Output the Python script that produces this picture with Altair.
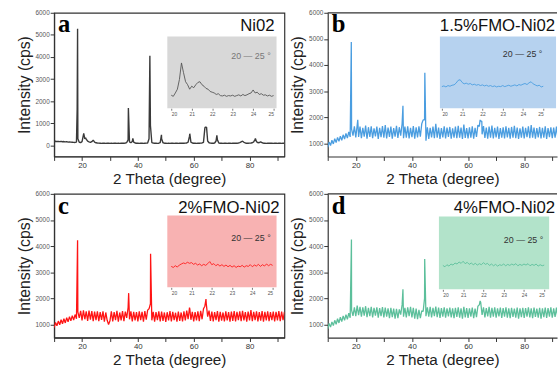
import altair as alt
import pandas as pd

# ---------------- data ----------------
# main patterns: intensity sampled every 0.5 degree from 10 to 92.5
a_base = [170,190,175,185,170,180,165,175,160,170,
          150,160,150,145,140,135,150,300,140,130,
          170,480,300,290,190,160,140,170,240,150,
          120,110,105,100,95,105,100,95,100,105,
          95,100,95,100,105,95,100,95,100,105,
          100,110,130,250,160,120,180,150,110,100,
          100,95,100,100,95,100,105,110,300,900,
          130,110,100,100,95,100,130,300,120,100,
          100,95,100,95,100,100,95,100,100,95,
          100,100,105,100,105,110,150,420,150,110,
          100,100,95,100,100,105,110,140,780,820,
          200,120,105,100,100,110,200,250,110,100,
          100,95,100,100,95,100,100,95,100,100,
          105,100,110,130,160,190,140,110,100,100,
          105,110,120,160,280,170,120,130,160,120,
          100,100,95,100,100,105,100,95,100,100,
          95,100,100,95,100,100]
a_peak_x = [18.25, 18.4, 20.6, 21.3, 36.6, 38.2, 44.3, 48.45, 58.6, 64.1, 64.6, 68.3, 82.1]
a_peak_y = [1650, 5280, 550, 340, 1690, 320, 4060, 480, 530, 830, 830, 460, 310]

b_base = [850,1050,920,1120,980,1180,1030,1230,1080,1280,
          1120,1330,1170,1380,1200,1440,1250,1550,1300,1650,
          1230,1700,1250,1640,1200,1600,1260,1680,1180,1620,
          1250,1650,1200,1580,1270,1640,1170,1600,1240,1660,
          1220,1700,1190,1610,1250,1640,1180,1590,1260,1670,
          1210,1620,1300,1750,1200,1640,1220,1650,1190,1600,
          1240,1660,1180,1620,1230,1650,1260,1750,1900,1900,
          1100,1620,1170,1600,1230,1640,1200,1750,1220,1610,
          1170,1590,1230,1650,1190,1610,1250,1630,1180,1580,
          1220,1640,1200,1670,1220,1610,1170,1720,1210,1590,
          1190,1620,1220,1650,1180,1600,1250,1700,1650,1850,
          1350,1660,1210,1610,1180,1640,1220,1680,1190,1600,
          1230,1640,1170,1590,1220,1620,1190,1650,1230,1600,
          1180,1630,1220,1670,1200,1610,1170,1580,1220,1640,
          1190,1600,1240,1650,1200,1700,1220,1610,1180,1590,
          1230,1630,1190,1600,1220,1650,1170,1590,1240,1620,
          1200,1610,1220,1640,1190,1600]
b_peak_x = [18.4, 20.7, 36.8, 44.6, 64.3, 64.9]
b_peak_y = [4880, 1900, 2440, 3700, 1900, 1850]

c_base = [880,1080,950,1130,990,1180,1030,1220,1060,1260,
          1100,1300,1140,1340,1170,1380,1220,1480,1250,1520,
          1160,1540,1200,1500,1140,1530,1190,1510,1130,1490,
          1170,1500,1130,1470,1180,1500,1110,1460,1160,1000,
          1140,1500,1120,1470,1170,1520,1110,1460,1160,1510,
          1130,1490,1250,1650,1200,1500,1120,1480,1160,1470,
          1120,1500,1170,1480,1110,1510,1190,1550,1600,1800,
          1160,1480,1110,1470,1170,1500,1120,1490,1140,1460,
          1100,1470,1160,1510,1120,1480,1170,1450,1110,1490,
          1140,1460,1120,1500,1160,1530,1200,1650,1180,1480,
          1120,1470,1160,1500,1130,1520,1200,1600,1700,1800,
          1300,1530,1140,1490,1120,1470,1170,1510,1110,1480,
          1150,1460,1120,1500,1160,1470,1110,1490,1140,1510,
          1120,1480,1170,1500,1130,1520,1160,1470,1110,1490,
          1160,1550,1130,1480,1170,1500,1120,1470,1150,1510,
          1110,1480,1160,1500,1130,1470,1170,1490,1120,1480,
          1160,1510,1130,1490,1170,1480]
c_peak_x = [18.4, 36.7, 44.55, 58.6, 64.4]
c_peak_y = [4220, 2200, 3710, 1600, 1970]

d_base = [830,1040,900,1100,960,1160,1010,1220,1060,1280,
          1110,1330,1160,1380,1200,1430,1260,1550,1330,1660,
          1320,1720,1360,1680,1300,1660,1340,1700,1280,1640,
          1320,1680,1270,1640,1340,1660,1260,1630,1320,1670,
          1270,1650,1300,1620,1240,1640,1280,1610,1220,1600,
          1240,1580,1380,1750,1300,1640,1270,1660,1320,1680,
          1270,1640,1220,1610,1200,1560,1240,1520,1500,2000,
          1320,1660,1300,1680,1270,1640,1320,1690,1280,1650,
          1250,1630,1300,1660,1260,1620,1310,1650,1270,1620,
          1240,1640,1290,1660,1260,1620,1220,1680,1270,1630,
          1250,1620,1300,1650,1240,1610,1280,1700,1750,1850,
          1370,1660,1270,1630,1310,1680,1260,1640,1300,1660,
          1260,1620,1310,1650,1250,1630,1300,1660,1260,1620,
          1240,1640,1290,1610,1260,1650,1220,1620,1280,1640,
          1250,1630,1300,1660,1270,1620,1240,1650,1290,1610,
          1260,1640,1220,1620,1280,1650,1250,1630,1300,1660,
          1260,1620,1290,1650,1250,1630]
d_peak_x = [18.45, 36.8, 44.55, 64.3]
d_peak_y = [4250, 2350, 3510, 1900]

# insets: 20-25 degree, every 0.1 degree
a_inset = [120,105,150,200,330,550,420,300,260,200,
           240,220,260,290,300,260,240,210,200,170,
           160,150,130,140,115,110,120,105,115,110,
           120,105,115,125,110,130,115,125,140,150,
           190,150,160,130,140,120,125,110,120,105,115]
b_inset = [1400,1420,1390,1430,1410,1440,1450,1500,1580,1600,
           1520,1480,1500,1470,1490,1450,1470,1440,1460,1430,
           1450,1420,1440,1410,1430,1400,1420,1390,1410,1400,
           1430,1400,1420,1440,1410,1430,1450,1420,1460,1440,
           1470,1490,1460,1510,1540,1480,1450,1420,1440,1390,1410]
c_inset = [1280,1250,1300,1260,1320,1350,1380,1360,1400,1370,
           1390,1340,1370,1320,1350,1300,1340,1310,1360,1420,
           1330,1360,1300,1340,1290,1330,1280,1320,1270,1310,
           1260,1300,1250,1290,1270,1310,1260,1300,1280,1330,
           1270,1320,1290,1340,1280,1330,1290,1350,1300,1340,1310]
d_inset = [1380,1340,1400,1360,1420,1390,1450,1420,1480,1440,
           1500,1430,1470,1410,1450,1400,1440,1390,1430,1400,
           1460,1410,1440,1380,1420,1370,1410,1360,1400,1380,
           1420,1370,1410,1380,1420,1390,1430,1370,1410,1380,
           1420,1390,1430,1370,1410,1380,1420,1360,1400,1370,1390]

names = ["Ni02", "1.5%FMO-Ni02", "2%FMO-Ni02", "4%FMO-Ni02"]
letters = ["a", "b", "c", "d"]
colors = ["#3a3a3a", "#4a9de0", "#ff1414", "#5cbf9b"]
inset_colors = ["#555555", "#4a9de0", "#ff1a1a", "#5cbf9b"]
inset_bgs = ["#d8d8d8", "#b6d2ef", "#f8b2b2", "#b2e3ca"]
line_widths = [1.4, 1.3, 1.3, 1.3]
range_label = "20 \u2014 25 \u00b0"

H = 146
FRAME = "#333333"


def panel(i, base, px, py, inset_y, width, xmax, ydom, yticks, rect,
          ix_range, iy_dom, iy_range, txt_pos, txt_color, name_x, framed):
    xs = [round(10 + 0.5 * k, 2) for k in range(len(base))]
    df = pd.DataFrame({"x": xs + px, "y": base + py}).sort_values("x")
    main = alt.Chart(df).mark_line(color=colors[i], strokeWidth=line_widths[i], clip=True,
                                   strokeJoin="bevel").encode(
        x=alt.X("x:Q", scale=alt.Scale(domain=[10, xmax], nice=False, zero=False),
                axis=alt.Axis(values=[10, 20, 30, 40, 50, 60, 70, 80, 90],
                              labelExpr="datum.value % 20 == 0 ? datum.label : ''",
                              title="2 Theta (degree)", grid=False,
                              domainColor=FRAME, domainWidth=1.2, tickColor=FRAME,
                              tickSize=4, labelFontSize=8, labelColor="#333",
                              labelPadding=1, titleFontSize=15.5, titleColor="#222",
                              titleFontWeight="normal", titlePadding=2,
                              labelFont="Liberation Sans", titleFont="Liberation Sans")),
        y=alt.Y("y:Q", scale=alt.Scale(domain=ydom, nice=False, zero=False),
                axis=alt.Axis(values=yticks, format="d", title="Intensity (cps)", grid=False,
                              domainColor=FRAME, domainWidth=1.2, tickColor=FRAME,
                              tickSize=4, labelFontSize=6.5, labelColor="#555",
                              labelPadding=1, titleFontSize=16, titleColor="#222",
                              titleFontWeight="normal", titlePadding=3,
                              labelFont="Liberation Sans", titleFont="Liberation Sans")),
    )
    one = pd.DataFrame({"k": [0]})
    bg = alt.Chart(one).mark_rect(fill=inset_bgs[i]).encode(
        x=alt.value(rect[0]), x2=alt.value(rect[1]),
        y=alt.value(rect[2]), y2=alt.value(rect[3]))
    ix = [round(20 + 0.1 * k, 2) for k in range(len(inset_y))]
    idf = pd.DataFrame({"ix": ix, "iy": inset_y})
    inset = alt.Chart(idf).mark_line(color=inset_colors[i], strokeWidth=0.9).encode(
        x=alt.X("ix:Q", scale=alt.Scale(domain=[20, 25], range=ix_range, nice=False, zero=False),
                axis=alt.Axis(orient="bottom", offset=-(H - rect[3]), values=[20, 21, 22, 23, 24, 25],
                              title=None, domain=False, grid=False, tickSize=2, tickColor="#777",
                              labelFontSize=5, labelColor="#555", labelPadding=1, zindex=1,
                              labelFont="Liberation Sans")),
        y=alt.Y("iy:Q", scale=alt.Scale(domain=iy_dom, range=iy_range, nice=False, zero=False),
                axis=None),
    )
    rtxt = alt.Chart(pd.DataFrame({"t": [range_label]})).mark_text(
        font="Liberation Sans", fontSize=9, color=txt_color, align="center", baseline="middle"
    ).encode(text="t:N", x=alt.value(txt_pos[0]), y=alt.value(txt_pos[1]))
    ntxt = alt.Chart(pd.DataFrame({"t": [names[i]]})).mark_text(
        font="Liberation Sans", fontSize=17, color="#111", align="right", baseline="alphabetic"
    ).encode(text="t:N", x=alt.value(name_x), y=alt.value(19))
    ltxt = alt.Chart(pd.DataFrame({"t": [letters[i]]})).mark_text(
        font="Liberation Serif", fontSize=25, fontWeight="bold", color="#000",
        align="left", baseline="alphabetic"
    ).encode(text="t:N", x=alt.value(4), y=alt.value(20))
    layers = [main, bg, inset, rtxt, ntxt, ltxt]
    if framed:
        view = alt.ViewBackground(stroke=FRAME, strokeWidth=1.2, fill="white")
    else:
        view = alt.ViewBackground(stroke="transparent", fill="white")
        top = alt.Chart(one).mark_rule(color=FRAME, strokeWidth=1.2).encode(
            x=alt.value(0), x2=alt.value(width), y=alt.value(0))
        layers.append(top)
    return alt.layer(*layers).resolve_scale(x="independent", y="independent").properties(
        width=width, height=H, view=view)


ticks_a = [0, 1000, 2000, 3000, 4000, 5000, 6000]
ticks_o = [1000, 2000, 3000, 4000, 5000, 6000]

pa = panel(0, a_base, a_peak_x, a_peak_y, a_inset, 234, 92.5, [-500, 6000], ticks_a,
           (115, 226, 24, 97), [119, 223], [80, 560], [86.8, 50.2], (200, 44), "#777", 224, True)
pb = panel(1, b_base, b_peak_x, b_peak_y, b_inset, 233, 91.7, [500, 6000], ticks_o,
           (114, 232, 24, 97), [116, 219], [1000, 2000], [89, 54], (198, 42), "#333", 231, False)
pc = panel(2, c_base, c_peak_x, c_peak_y, c_inset, 234, 92.5, [500, 6000], ticks_o,
           (115, 226, 22, 95), [119, 222], [1000, 2000], [83.5, 48.5], (200, 45), "#333", 229, True)
pd_ = panel(3, d_base, d_peak_x, d_peak_y, d_inset, 233, 91.7, [500, 6000], ticks_o,
            (113, 225, 23, 97), [117, 220], [1000, 2000], [86, 51], (199, 47), "#333", 231, False)

chart = alt.concat(pa, pb, pc, pd_, columns=2,
                   spacing=alt.RowColnumber(row=38, column=44),
                   bounds="flush").properties(
    padding={"left": 15, "top": 6, "right": 0, "bottom": 0},
    background="white",
)

chart.save("out.html", embed_options={"renderer": "svg", "actions": False})
